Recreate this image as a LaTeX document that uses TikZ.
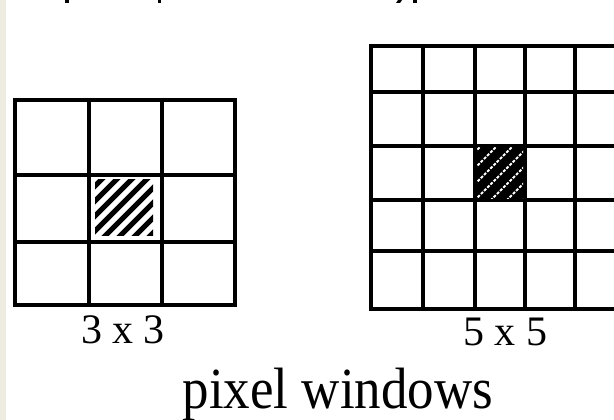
\documentclass[tikz,border=0pt]{standalone}
\usepackage{fontspec}
\setmainfont{Liberation Serif}
\definecolor{paper}{RGB}{238,235,224}
\begin{document}
\begin{tikzpicture}[x=1pt,y=-1pt,
  gridline/.style={line width=4pt,line cap=rect},
  hatchline/.style={line width=5.3pt},
  dotline/.style={white,line width=1.8pt,dash pattern=on 3pt off 1.5pt},
  sizelabel/.style={font=\fontsize{42}{48}\selectfont,anchor=base,inner sep=0pt},
  caption/.style={font=\fontsize{53}{60}\selectfont,anchor=base,inner sep=0pt}]
\useasboundingbox (0,0) rectangle (614,420);
\fill[white] (0,0) rectangle (614,420);
\fill[paper] (0,0) rectangle (6,420);

% descenders of the heading line above
\fill (65,0) rectangle (69,3);
\fill (158,0) rectangle (161,3);
\fill (398,0) -- (402,0) -- (400,3) -- (396,3) -- cycle;
\fill (413,0) rectangle (417,3);

% 3 x 3 window
\foreach \x in {15.3,88.7,162,235} \draw[gridline] (\x,99.7) -- (\x,304.7);
\foreach \y in {99.7,174.7,242,304.7} \draw[gridline] (15.3,\y) -- (235,\y);
\begin{scope}
  \clip (95,179) rectangle (153,235);
  \foreach \c in {266,281,...,401} \draw[hatchline] (\c-250,250) -- (\c-170,170);
\end{scope}

% 5 x 5 window
\foreach \x in {370.7,423,475,525.3,575.3} \draw[gridline] (\x,46) -- (\x,308.7);
\foreach \y in {46,92,146,200,251,308.7} \draw[gridline] (370.7,\y) -- (616,\y);
\fill (475,146) rectangle (525.3,200);
\begin{scope}
  \clip (477,148) rectangle (523,198);
  \foreach \c in {627,643,...,723} \draw[dotline] (\c-210,210) -- (\c-140,140);
\end{scope}

% labels
\node[sizelabel] (lab3) at (123,343) {3 x 3};
\node[sizelabel] (lab5) at (505,345) {5 x 5};
\node[caption] (cap) at (338,408) {\scalebox{1}[1.1]{pixel windows}};
\end{tikzpicture}
\end{document}
